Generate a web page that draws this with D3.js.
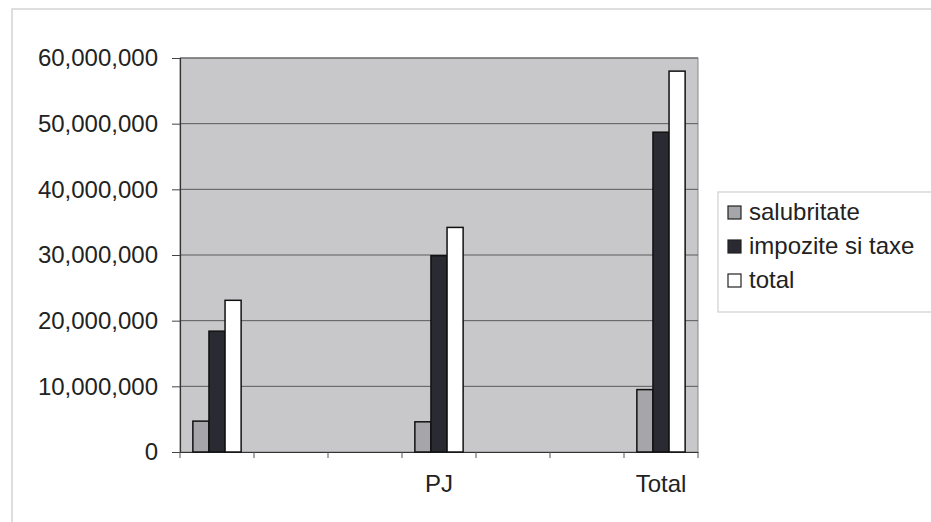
<!DOCTYPE html>
<html>
<head>
<meta charset="utf-8">
<script src="https://cdn.jsdelivr.net/npm/d3@7"></script>
<style>
  html, body { margin: 0; padding: 0; background: #ffffff; }
  svg { display: block; font-family: "Liberation Sans", Arial, sans-serif; }
</style>
</head>
<body>
<svg id="chart" width="931" height="522"></svg>
<script>
// ---- data ----
const categories = ["", " ", "  ", "PJ", "   ", "    ", "Total"];
const seriesNames = ["salubritate", "impozite si taxe", "total"];
const salubritate = [4700000, null, null, 4600000, null, null, 9500000];
const impozite = [18400000, null, null, 29900000, null, null, 48700000];
const totalVals = [23100000, null, null, 34200000, null, null, 58000000];
const yTicks = [0, 10000000, 20000000, 30000000, 40000000, 50000000, 60000000];

const seriesValues = [salubritate, impozite, totalVals];
const seriesColors = ["#a6a6aa", "#2a2a33", "#ffffff"];

const svg = d3.select("#chart");
const plot = { left: 180, right: 698, top: 58, bottom: 452 };

// outer frame
svg.append("rect").attr("x", 12).attr("y", 9).attr("width", 940).attr("height", 540)
  .attr("fill", "none").attr("stroke", "#d4d4d4").attr("stroke-width", 1.5);

const x = d3.scaleBand().domain(categories).range([plot.left, plot.right]).paddingInner(0).paddingOuter(0);
const xs = d3.scaleBand().domain(seriesNames).range([0, x.bandwidth()]).paddingInner(0).paddingOuter(0.8);
const y = d3.scaleLinear().domain([0, 60000000]).range([plot.bottom, plot.top]);

// plot background
svg.append("rect").attr("x", plot.left).attr("y", plot.top)
  .attr("width", plot.right - plot.left).attr("height", plot.bottom - plot.top)
  .attr("fill", "#c8c8ca").attr("stroke", "#8a8a8a").attr("stroke-width", 1);

// gridlines
svg.append("g").selectAll("line").data(yTicks.filter(d => d > 0)).join("line")
  .attr("x1", plot.left).attr("x2", plot.right)
  .attr("y1", d => y(d)).attr("y2", d => y(d))
  .attr("stroke", "#5a5a5a").attr("stroke-width", 1);

// y axis
const yAxis = d3.axisLeft(y).tickValues(yTicks).tickFormat(d3.format(",")).tickSizeOuter(0).tickSize(8).tickPadding(14);
const gy = svg.append("g").attr("transform", `translate(${plot.left},0)`).call(yAxis);
gy.select(".domain").attr("stroke", "#333").attr("stroke-width", 1.2);
gy.selectAll(".tick line").attr("stroke", "#444");
gy.selectAll("text").attr("font-size", 24).attr("fill", "#222").attr("font-family", "Liberation Sans, Arial, sans-serif");

// x axis
const xAxis = d3.axisBottom(x).tickSize(0).tickPadding(23).tickSizeOuter(0);
const gx = svg.append("g").attr("transform", `translate(0,${plot.bottom})`).call(xAxis);
gx.select(".domain").attr("stroke", "#333").attr("stroke-width", 1.2);
gx.selectAll("text").attr("font-size", 24).attr("fill", "#222").attr("font-family", "Liberation Sans, Arial, sans-serif");
// category boundary ticks
const bounds = categories.map(c => x(c)).concat([plot.right]);
svg.append("g").selectAll("line").data(bounds).join("line")
  .attr("x1", d => d).attr("x2", d => d)
  .attr("y1", plot.bottom).attr("y2", plot.bottom + 6)
  .attr("stroke", "#555").attr("stroke-width", 1);

// bars
const barData = [];
categories.forEach((c, i) => {
  seriesNames.forEach((s, j) => {
    const v = seriesValues[j][i];
    if (v != null) barData.push({ c, s, v, color: seriesColors[j] });
  });
});
svg.append("g").selectAll("rect").data(barData).join("rect")
  .attr("x", d => x(d.c) + xs(d.s))
  .attr("y", d => y(d.v))
  .attr("width", xs.bandwidth())
  .attr("height", d => y(0) - y(d.v))
  .attr("fill", d => d.color)
  .attr("stroke", "#111").attr("stroke-width", 1.5);

// legend
const lg = svg.append("g");
lg.append("rect").attr("x", 718).attr("y", 192).attr("width", 230).attr("height", 120)
  .attr("fill", "#ffffff").attr("stroke", "#d0d0d0").attr("stroke-width", 1.2);
const items = lg.selectAll("g.item").data(seriesNames).join("g").attr("class", "item")
  .attr("transform", (d, i) => `translate(728,${212 + i * 34})`);
items.append("rect").attr("x", 0).attr("y", -6).attr("width", 13).attr("height", 13)
  .attr("fill", (d, i) => seriesColors[i]).attr("stroke", "#222").attr("stroke-width", 1.2);
items.append("text").attr("x", 21).attr("y", 0).attr("dy", "0.35em")
  .attr("font-size", 24).attr("fill", "#222").text(d => d);
</script>
</body>
</html>
